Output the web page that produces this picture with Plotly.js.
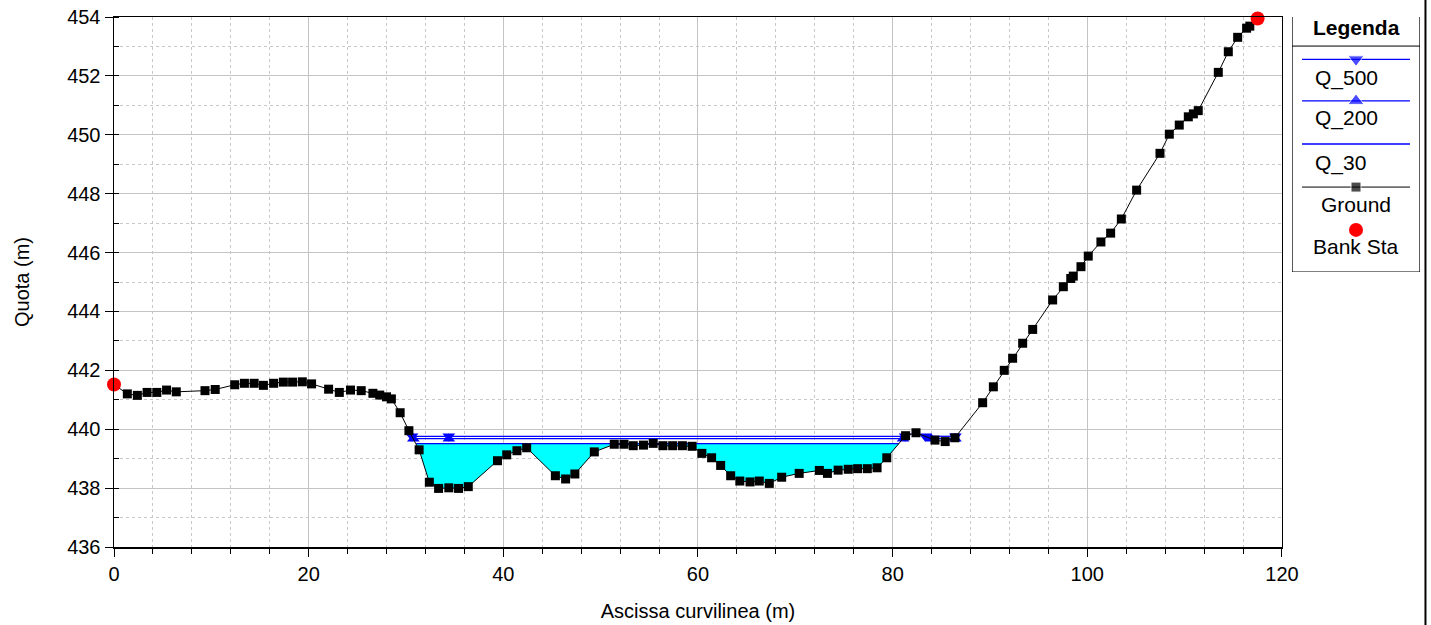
<!DOCTYPE html>
<html>
<head>
<meta charset="utf-8">
<script src="https://cdn.plot.ly/plotly-3.0.1.min.js"></script>
<style>
  html, body { margin: 0; padding: 0; background: #fff; }
  #chart { width: 1431px; height: 625px; }
</style>
</head>
<body>
<div id="chart"></div>
<script>
// ---- Data ----
const groundX = [0, 1.37, 2.4, 3.4, 4.4, 5.4, 6.4, 9.35, 10.4, 12.4, 13.4, 14.4, 15.35, 16.4, 17.4, 18.35, 19.35, 20.3,
  22.05, 23.15, 24.3, 25.4, 26.6, 27.3, 28.0, 28.5, 29.4, 30.3, 31.35, 32.4, 33.35, 34.4, 35.4, 36.4, 39.4, 40.35, 41.4,
  42.4, 45.35, 46.4, 47.35, 49.35, 51.4, 52.4, 53.35, 54.4, 55.4, 56.4, 57.4, 58.4, 59.4, 60.4, 61.4, 62.33, 63.36,
  64.3, 65.35, 66.3, 67.33, 68.6, 70.4, 72.47, 73.3, 74.4, 75.44, 76.4, 77.4, 78.4, 79.4, 81.33, 82.4, 84.35, 85.4,
  86.4, 89.25, 90.35, 91.47, 92.33, 93.36, 94.39, 96.44, 97.54, 98.3, 98.56, 99.35, 100.1, 101.4, 102.4, 103.5,
  105.07, 107.47, 108.43, 109.45, 110.38, 110.9, 111.4, 113.46, 114.49, 115.45, 116.37, 116.7, 117.5];
const groundY = [441.52, 441.2, 441.15, 441.25, 441.25, 441.33, 441.27, 441.31, 441.35, 441.51, 441.56, 441.56, 441.49,
  441.56, 441.6, 441.6, 441.61, 441.54, 441.36, 441.25, 441.33, 441.31, 441.22, 441.16, 441.1, 441.03, 440.56, 439.95,
  439.3, 438.2, 437.99, 438.01, 437.99, 438.05, 438.93, 439.13, 439.27, 439.37, 438.42, 438.31, 438.48, 439.23, 439.49,
  439.49, 439.44, 439.46, 439.52, 439.44, 439.44, 439.44, 439.42, 439.18, 439.03, 438.77, 438.42, 438.24, 438.21,
  438.24, 438.16, 438.37, 438.5, 438.6, 438.5, 438.61, 438.64, 438.66, 438.66, 438.69, 439.03, 439.78, 439.88,
  439.63, 439.58, 439.71, 440.9, 441.44, 442.0, 442.41, 442.92, 443.39, 444.39, 444.84, 445.12, 445.2, 445.52,
  445.88, 446.36, 446.66, 447.14, 448.12, 449.37, 450.02, 450.33, 450.61, 450.71, 450.82, 452.12, 452.82, 453.31,
  453.62, 453.69, 453.95];

const bankX = [0, 117.5];
const bankY = [441.52, 453.95];

const q500Level = 439.76;
const q500X = [30.62, 34.4, 81.28, null, 83.34, 86.45];
const q200Level = 439.68;
const q200X = [30.76, 34.4, 81.07, null, 83.96, 86.45];
const q30Level = 439.51;
const q30Start = 31.04, q30End = 80.64;

const xTicks = [0, 20, 40, 60, 80, 100, 120];
const yTicks = [436, 438, 440, 442, 444, 446, 448, 450, 452, 454];
const legendNames = ["Q_500", "Q_200", "Q_30", "Ground", "Bank Sta"];

// ---- Build the wetted polygon for Q_30 from the ground data ----
const fillX = [q30Start], fillY = [q30Level];
groundX.forEach((x, i) => {
  if (x > q30Start && x < q30End) { fillX.push(x); fillY.push(Math.min(groundY[i], q30Level)); }
});
fillX.push(q30End, q30Start); fillY.push(q30Level, q30Level);

const lvl = (xs, v) => xs.map(x => x === null ? null : v);

const BLUE = '#0000ff';
const traces = [
  { x: fillX, y: fillY, type: 'scatter', mode: 'lines', fill: 'toself', fillcolor: '#00ffff',
    line: { width: 0, color: '#00ffff' }, hoverinfo: 'skip', showlegend: false },
  { x: [q30Start, q30End], y: [q30Level, q30Level], type: 'scatter', mode: 'lines', name: 'Q_30',
    line: { color: BLUE, width: 1.3 }, showlegend: false },
  { x: q200X, y: lvl(q200X, q200Level), type: 'scatter', mode: 'lines+markers', name: 'Q_200',
    line: { color: BLUE, width: 1.3 }, marker: { symbol: 'triangle-up', size: 11, color: BLUE },
    showlegend: false, connectgaps: false },
  { x: q500X, y: lvl(q500X, q500Level), type: 'scatter', mode: 'lines+markers', name: 'Q_500',
    line: { color: BLUE, width: 1.3 }, marker: { symbol: 'triangle-down', size: 11, color: BLUE },
    showlegend: false, connectgaps: false },
  { x: groundX, y: groundY, type: 'scatter', mode: 'lines+markers', name: 'Ground',
    line: { color: '#000', width: 1 }, marker: { symbol: 'square', size: 9, color: '#000' }, showlegend: false },
  { x: bankX, y: bankY, type: 'scatter', mode: 'markers', name: 'Bank Sta',
    marker: { symbol: 'circle', size: 14, color: '#ff0000' }, showlegend: false, cliponaxis: false },
  // custom legend samples (drawn in a small hidden axis box on the right)
  { x: [0.078, 0.5, 0.922], y: [0.834, 0.834, 0.834], xaxis: 'x2', yaxis: 'y2', type: 'scatter', mode: 'lines+markers',
    line: { color: BLUE, width: 1.3 }, marker: { symbol: 'triangle-down', size: [0, 14, 0], color: BLUE },
    showlegend: false, hoverinfo: 'skip', cliponaxis: false },
  { x: [0.078, 0.5, 0.922], y: [0.671, 0.671, 0.671], xaxis: 'x2', yaxis: 'y2', type: 'scatter', mode: 'lines+markers',
    line: { color: BLUE, width: 1.3 }, marker: { symbol: 'triangle-up', size: [0, 14, 0], color: BLUE },
    showlegend: false, hoverinfo: 'skip', cliponaxis: false },
  { x: [0.078, 0.922], y: [0.502, 0.502], xaxis: 'x2', yaxis: 'y2', type: 'scatter', mode: 'lines',
    line: { color: BLUE, width: 1.3 }, showlegend: false, hoverinfo: 'skip', cliponaxis: false },
  { x: [0.078, 0.5, 0.922], y: [0.333, 0.333, 0.333], xaxis: 'x2', yaxis: 'y2', type: 'scatter', mode: 'lines+markers',
    line: { color: '#000', width: 1 }, marker: { symbol: 'square', size: [0, 10, 0], color: '#000' },
    showlegend: false, hoverinfo: 'skip', cliponaxis: false },
  { x: [0.5], y: [0.165], xaxis: 'x2', yaxis: 'y2', type: 'scatter', mode: 'markers',
    marker: { symbol: 'circle', size: 14, color: '#ff0000' }, showlegend: false, hoverinfo: 'skip', cliponaxis: false }
];

const FONT = 'Liberation Sans, Arial, sans-serif';
const legendTextY = [0.761, 0.604, 0.427, 0.263, 0.098];
const annotations = legendNames.map((n, i) => ({
  xref: 'x2', yref: 'y2', x: i < 3 ? 0.16 : 0.5, y: legendTextY[i], text: n, showarrow: false,
  xanchor: i < 3 ? 'left' : 'center', yanchor: 'middle', font: { family: FONT, size: 21, color: '#000' }
}));
annotations.push({ xref: 'x2', yref: 'y2', x: 0.5, y: 0.958, text: '<b>Legenda</b>', showarrow: false,
  xanchor: 'center', yanchor: 'middle', font: { family: FONT, size: 21, color: '#000' } });

const layout = {
  width: 1431, height: 625,
  margin: { l: 114, r: 5, t: 17, b: 78, pad: 0 },
  paper_bgcolor: '#fff', plot_bgcolor: '#fff',
  font: { family: FONT, size: 20, color: '#000' },
  showlegend: false,
  xaxis: {
    domain: [0, 0.8902], range: [0, 120], tickvals: xTicks, ticktext: xTicks.map(String),
    ticks: 'outside', ticklen: 8, tickcolor: '#000', tickwidth: 1,
    showline: true, linecolor: '#000', linewidth: 1.5, mirror: true,
    showgrid: true, gridcolor: '#c4c4c4', gridwidth: 1, zeroline: false,
    minor: { dtick: 4, tick0: 0, ticks: 'outside', ticklen: 5, tickcolor: '#000', showgrid: true,
             gridcolor: '#c8c8c8', griddash: '3px,3px', gridwidth: 1 },
    tickfont: { family: FONT, size: 20, color: '#000' },
    title: { text: 'Ascissa curvilinea (m)', standoff: 20, font: { family: FONT, size: 20, color: '#000' } }
  },
  yaxis: {
    domain: [0, 1], range: [436, 454], tickvals: yTicks, ticktext: yTicks.map(String),
    ticks: 'outside', ticklen: 8, tickcolor: '#000', tickwidth: 1,
    showline: true, linecolor: '#000', linewidth: 1.5, mirror: true,
    showgrid: true, gridcolor: '#c4c4c4', gridwidth: 1, zeroline: false,
    minor: { dtick: 1, tick0: 436, ticks: 'inside', ticklen: 5, tickcolor: '#000', showgrid: true,
             gridcolor: '#c8c8c8', griddash: '3px,3px', gridwidth: 1 },
    tickfont: { family: FONT, size: 20, color: '#000' },
    title: { text: 'Quota (m)', standoff: 32, font: { family: FONT, size: 20, color: '#000' } }
  },
  xaxis2: { domain: [0.8979, 0.9954], range: [0, 1], visible: false, anchor: 'y2', fixedrange: true },
  yaxis2: { domain: [0.5189, 1], range: [0, 1], visible: false, anchor: 'x2', fixedrange: true },
  annotations: annotations,
  shapes: [
    { type: 'rect', xref: 'x2', yref: 'y2', x0: 0, x1: 1, y0: 0, y1: 1.004, line: { color: '#000', width: 1.2 } },
    { type: 'line', xref: 'x2', yref: 'y2', x0: 0, x1: 1, y0: 0.886, y1: 0.886, line: { color: '#000', width: 1 } },
    { type: 'line', xref: 'paper', yref: 'paper', x0: 0.9996, x1: 0.9996, y0: -0.15, y1: 1.04,
      line: { color: '#000', width: 2 } }
  ]
};

Plotly.newPlot('chart', traces, layout, { displayModeBar: false, staticPlot: true });
</script>
</body>
</html>
